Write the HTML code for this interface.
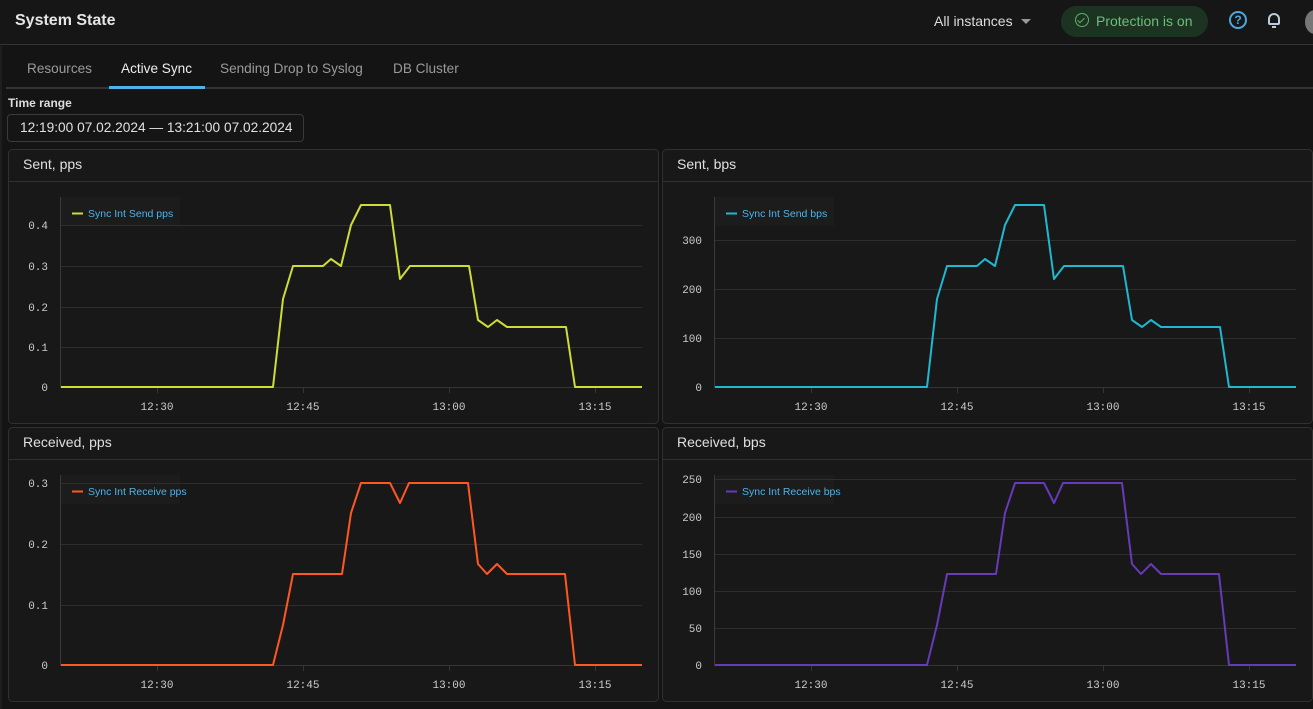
<!DOCTYPE html>
<html><head><meta charset="utf-8"><style>
*{margin:0;padding:0;box-sizing:border-box}
body{width:1313px;height:709px;background:#141414;font-family:"Liberation Sans",sans-serif;overflow:hidden;position:relative;color:#ddd}
.a{position:absolute}
</style></head><body>
<div class="a" style="left:0;top:0;width:1313px;height:45px;background:#161616;border-bottom:1px solid #333"></div>
<div class="a" style="left:15px;top:12px;font-size:16px;font-weight:bold;color:#e6e6e6">System State</div>
<div class="a" style="left:934px;top:13px;font-size:14px;color:#ddd">All instances</div>
<div class="a" style="left:1021px;top:19px;width:0;height:0;border-left:5px solid transparent;border-right:5px solid transparent;border-top:5px solid #999"></div>
<div class="a" style="left:1061px;top:6px;width:147px;height:31px;border-radius:16px;background:#1c3322"></div>
<div class="a" style="left:1075px;top:13px;width:14px;height:14px;border:1.5px solid #5fae6c;border-radius:50%"></div>
<div class="a" style="left:1079px;top:16px;width:4px;height:7px;border-right:1.5px solid #5fae6c;border-bottom:1.5px solid #5fae6c;transform:rotate(45deg)"></div>
<div class="a" style="left:1096px;top:13px;font-size:14px;color:#6cbf78">Protection is on</div>
<div class="a" style="left:1229px;top:11px;width:18px;height:18px;border:2px solid #4aa8e0;border-radius:50%;color:#4aa8e0;font-size:12px;font-weight:bold;text-align:center;line-height:14px">?</div>
<div class="a" style="left:1268px;top:13px;width:12px;height:12px;border:2px solid #bcd;border-radius:6px 6px 2px 2px"></div>
<div class="a" style="left:1272px;top:26px;width:4px;height:2px;background:#bcd"></div>
<div class="a" style="left:1305px;top:10px;width:20px;height:24px;border-radius:50%;background:#777"></div>
<div class="a" style="left:0;top:46px;width:2px;height:663px;background:#1e1e1e"></div>
<div class="a" style="left:27px;top:61px;font-size:13.6px;color:#9a9a9a">Resources</div>
<div class="a" style="left:121px;top:61px;font-size:13.6px;color:#eee">Active Sync</div>
<div class="a" style="left:220px;top:61px;font-size:13.6px;color:#9a9a9a">Sending Drop to Syslog</div>
<div class="a" style="left:393px;top:61px;font-size:13.6px;color:#9a9a9a">DB Cluster</div>
<div class="a" style="left:6px;top:87px;width:1307px;height:2px;background:#333"></div>
<div class="a" style="left:109px;top:86px;width:96px;height:3px;background:#4fb3e8"></div>
<div class="a" style="left:8px;top:96px;font-size:12px;font-weight:bold;color:#ddd">Time range</div>
<div class="a" style="left:7px;top:114px;width:297px;height:28px;border:1px solid #3a3a3a;border-radius:4px;background:#151515"></div>
<div class="a" style="left:20px;top:120px;font-size:13.7px;color:#e0e0e0">12:19:00 07.02.2024 — 13:21:00 07.02.2024</div>
<svg class="a" style="left:0;top:0" width="1313" height="709" font-family="Liberation Sans, sans-serif">
<defs>
<g id="panelbg">
<rect x="8.5" y="149.5" width="650" height="274" rx="4" fill="#181818" stroke="#303030"/>
<line x1="9" y1="181.5" x2="658" y2="181.5" stroke="#303030"/>
<line x1="60.5" y1="197" x2="60.5" y2="388" stroke="#3a3a3a"/>
<rect x="61" y="197" width="119" height="29" fill="#1c1c1c"/>
<g stroke="#353535"><line x1="61" y1="387.5" x2="642" y2="387.5"/><line x1="157.5" y1="388" x2="157.5" y2="393"/><line x1="303.5" y1="388" x2="303.5" y2="393"/><line x1="449.5" y1="388" x2="449.5" y2="393"/><line x1="595.5" y1="388" x2="595.5" y2="393"/></g>
<g font-family="Liberation Mono, monospace" font-size="11" fill="#ccc" text-anchor="middle"><text x="157" y="410">12:30</text><text x="303" y="410">12:45</text><text x="449" y="410">13:00</text><text x="595" y="410">13:15</text></g>
</g>
</defs>
<use href="#panelbg"/>
<text x="23" y="169" font-size="14" fill="#e0e0e0">Sent, pps</text>
<g stroke="#2e2e2e"><line x1="61" y1="347.5" x2="642" y2="347.5"/><line x1="61" y1="307.5" x2="642" y2="307.5"/><line x1="61" y1="266.5" x2="642" y2="266.5"/><line x1="61" y1="225.5" x2="642" y2="225.5"/></g>
<g font-family="Liberation Mono, monospace" font-size="11" fill="#ccc" text-anchor="end"><text x="48" y="391">0</text><text x="48" y="351">0.1</text><text x="48" y="311">0.2</text><text x="48" y="270">0.3</text><text x="48" y="229">0.4</text></g>
<line x1="72" y1="213.5" x2="83" y2="213.5" stroke="#cddc39" stroke-width="2"/><text x="88" y="217" font-size="10.5" fill="#4fb3e8">Sync Int Send pps</text>
<polyline fill="none" stroke="#cddc39" stroke-width="2" stroke-linejoin="round" points="61,387 273,387 283,299 293,266 323,266 331,259 341,266 351,225 361,205 390,205 400,279 410,266 469,266 478,320 488,327 497,320 507,327 566,327 575,387 642,387"/>
<use href="#panelbg" transform="translate(654,0)"/>
<text x="677" y="169" font-size="14" fill="#e0e0e0">Sent, bps</text>
<g stroke="#2e2e2e"><line x1="715" y1="338.5" x2="1296" y2="338.5"/><line x1="715" y1="289.5" x2="1296" y2="289.5"/><line x1="715" y1="240.5" x2="1296" y2="240.5"/></g>
<g font-family="Liberation Mono, monospace" font-size="11" fill="#ccc" text-anchor="end"><text x="702" y="391">0</text><text x="702" y="342">100</text><text x="702" y="293">200</text><text x="702" y="244">300</text></g>
<line x1="726" y1="213.5" x2="737" y2="213.5" stroke="#1fb8d0" stroke-width="2"/><text x="742" y="217" font-size="10.5" fill="#4fb3e8">Sync Int Send bps</text>
<polyline fill="none" stroke="#1fb8d0" stroke-width="2" stroke-linejoin="round" points="715,387 927,387 937,299 947,266 977,266 985,259 995,266 1005,225 1015,205 1044,205 1054,279 1064,266 1123,266 1132,320 1142,327 1151,320 1161,327 1220,327 1229,387 1296,387"/>
<use href="#panelbg" transform="translate(0,278)"/>
<text x="23" y="447" font-size="14" fill="#e0e0e0">Received, pps</text>
<g stroke="#2e2e2e"><line x1="61" y1="605.5" x2="642" y2="605.5"/><line x1="61" y1="544.5" x2="642" y2="544.5"/><line x1="61" y1="483.5" x2="642" y2="483.5"/></g>
<g font-family="Liberation Mono, monospace" font-size="11" fill="#ccc" text-anchor="end"><text x="48" y="669">0</text><text x="48" y="609">0.1</text><text x="48" y="548">0.2</text><text x="48" y="487">0.3</text></g>
<line x1="72" y1="491.5" x2="83" y2="491.5" stroke="#ff5722" stroke-width="2"/><text x="88" y="495" font-size="10.5" fill="#4fb3e8">Sync Int Receive pps</text>
<polyline fill="none" stroke="#ff5722" stroke-width="2" stroke-linejoin="round" points="61,665 273,665 283,625 293,574 342,574 351,513 361,483 390,483 400,503 409,483 468,483 478,564 487,574 497,564 507,574 565,574 575,665 642,665"/>
<use href="#panelbg" transform="translate(654,278)"/>
<text x="677" y="447" font-size="14" fill="#e0e0e0">Received, bps</text>
<g stroke="#2e2e2e"><line x1="715" y1="628.5" x2="1296" y2="628.5"/><line x1="715" y1="591.5" x2="1296" y2="591.5"/><line x1="715" y1="554.5" x2="1296" y2="554.5"/><line x1="715" y1="517.5" x2="1296" y2="517.5"/><line x1="715" y1="479.5" x2="1296" y2="479.5"/></g>
<g font-family="Liberation Mono, monospace" font-size="11" fill="#ccc" text-anchor="end"><text x="702" y="669">0</text><text x="702" y="632">50</text><text x="702" y="595">100</text><text x="702" y="558">150</text><text x="702" y="521">200</text><text x="702" y="483">250</text></g>
<line x1="726" y1="491.5" x2="737" y2="491.5" stroke="#673ab7" stroke-width="2"/><text x="742" y="495" font-size="10.5" fill="#4fb3e8">Sync Int Receive bps</text>
<polyline fill="none" stroke="#673ab7" stroke-width="2" stroke-linejoin="round" points="715,665 927,665 937,625 947,574 996,574 1005,513 1015,483 1044,483 1054,503 1063,483 1122,483 1132,564 1141,574 1151,564 1161,574 1219,574 1229,665 1296,665"/>
</svg>
</body></html>
